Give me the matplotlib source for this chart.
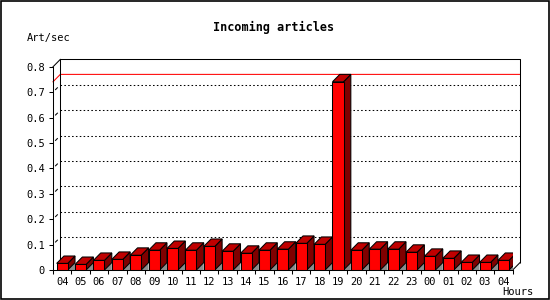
import matplotlib
matplotlib.use("Agg")
from matplotlib import pyplot as plt
from matplotlib.patches import Polygon, Rectangle

plt.rcParams['font.family'] = 'DejaVu Sans Mono'

hours = ["04", "05", "06", "07", "08", "09", "10", "11", "12", "13", "14", "15",
         "16", "17", "18", "19", "20", "21", "22", "23", "00", "01", "02", "03", "04"]
rates = [0.026, 0.022, 0.038, 0.042, 0.058, 0.078, 0.085, 0.078, 0.093, 0.074, 0.066, 0.078,
         0.082, 0.105, 0.101, 0.741, 0.078, 0.082, 0.082, 0.070, 0.054, 0.046, 0.030, 0.030, 0.038]
yticks = [0, 0.1, 0.2, 0.3, 0.4, 0.5, 0.6, 0.7, 0.8]
ytick_labels = ["0", "0.1", "0.2", "0.3", "0.4", "0.5", "0.6", "0.7", "0.8"]

W, H = 550, 300
fig = plt.figure(figsize=(5.5, 3.0), dpi=100)
fig.patch.set_facecolor("white")

# front plane in pixels: x 53 -> 512.7, y 270 (0) -> 66.8 (0.8)
ax = fig.add_axes([53 / W, 30 / H, 459.7 / W, 203.2 / H])
n = len(rates)
ax.set_xlim(-0.5, n - 0.5)
ax.set_ylim(0, 0.8)
ax.patch.set_alpha(0)

# depth offsets (about 7 px) in data units
dx = 7.3 / (459.7 / n)
dy = 7.4 / (203.2 / 0.8)
lw = 0.75
x0, x1 = -0.5, n - 0.5

# back plane frame
ax.plot([x0 + dx, x0 + dx, x1 + dx, x1 + dx], [dy, 0.8 + dy, 0.8 + dy, dy],
        color="black", lw=lw, clip_on=False, zorder=2, solid_capstyle="butt")
ax.plot([x0, x0 + dx], [0.8, 0.8 + dy], color="black", lw=lw, clip_on=False, zorder=2)
ax.plot([x1, x1 + dx], [0, dy], color="black", lw=lw, clip_on=False, zorder=2)

# dotted gridlines on back plane
for v in yticks[1:-1]:
    ax.plot([x0 + dx, x1 + dx], [v + dy, v + dy], color="black", lw=lw,
            linestyle=(0, (1.5, 2.2)), clip_on=False, zorder=1)
    ax.plot([x0 + 0.35 * dx, x0 + 0.6 * dx], [v + 0.35 * dy, v + 0.6 * dy],
            color="black", lw=lw, clip_on=False, zorder=1)

# max line
m = max(rates)
ax.plot([x0, x0 + dx, x1 + dx], [m, m + dy, m + dy], color="red", lw=lw,
        clip_on=False, zorder=1.5)

# bars
bw = 0.6
for i, v in enumerate(rates):
    xl, xr = i - bw / 2, i + bw / 2
    ax.add_patch(Polygon([(xr, 0), (xr + dx, dy), (xr + dx, 0)], closed=True,
                         facecolor="#8c8c8c", edgecolor="none", zorder=3))
    ax.add_patch(Polygon([(xr, 0), (xr, v), (xr + dx, v + dy), (xr + dx, dy)], closed=True,
                         facecolor="#800000", edgecolor="black", lw=lw, zorder=4))
    ax.add_patch(Polygon([(xl, v), (xr, v), (xr + dx, v + dy), (xl + dx, v + dy)], closed=True,
                         facecolor="#c00000", edgecolor="black", lw=lw, zorder=4))
    ax.add_patch(Rectangle((xl, 0), bw, v, facecolor="#ff0000", edgecolor="black",
                           lw=lw, zorder=5))

# axes: front plane spines and ticks
for s in ["top", "right"]:
    ax.spines[s].set_visible(False)
for s in ["left", "bottom"]:
    ax.spines[s].set_linewidth(lw)
    ax.spines[s].set_zorder(6)

ax.set_xticks(range(n))
ax.set_xticklabels(hours, fontsize=7.5)
ax.set_xticks([k + 0.5 for k in range(-1, n)], minor=True)
ax.tick_params(axis="x", which="major", length=0, pad=5)
ax.tick_params(axis="x", which="minor", length=3, width=lw, direction="out")
ax.set_yticks(yticks)
ax.set_yticklabels(ytick_labels, fontsize=7.5)
ax.tick_params(axis="y", length=3, width=lw, direction="out", pad=3)

fig.text(273.5 / W, 1 - 27 / H, "Incoming articles", ha="center", va="center",
         fontsize=8.5, fontweight="bold")
fig.text(49 / W, 1 - 38 / H, "Art/sec", ha="center", va="center", fontsize=7.5)
fig.text(518 / W, 1 - 292 / H, "Hours", ha="center", va="center", fontsize=7.5)

fig.patches.append(Rectangle((0.5 / W, 1.5 / H), 548 / W, 297.5 / H, transform=fig.transFigure,
                             fill=False, edgecolor="black", lw=1.2))

fig.savefig("out.png", dpi=100)
